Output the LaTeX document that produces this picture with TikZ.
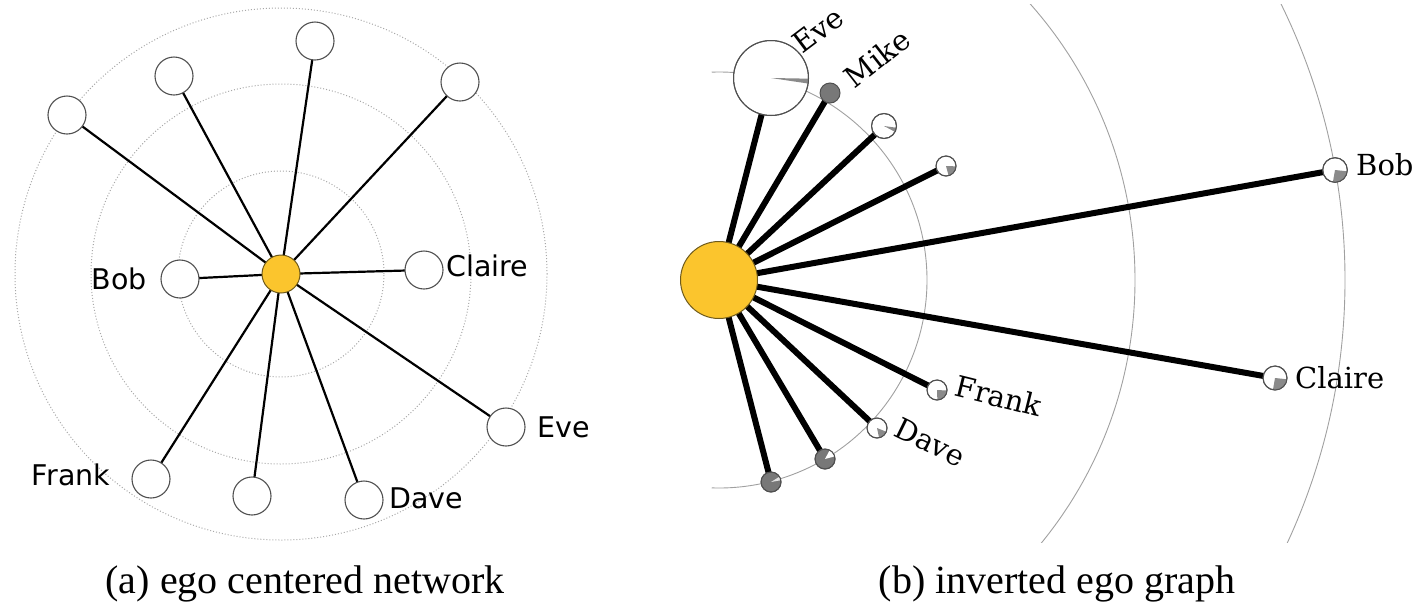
\documentclass[tikz,border=0pt]{standalone}
\usepackage{fontspec}
\usetikzlibrary{backgrounds}
\newfontfamily\sanslab{DejaVu Sans}
\newfontfamily\seriflab{DejaVu Serif}
\newfontfamily\capfont{Liberation Serif}
\definecolor{egofill}{HTML}{FBC52D}
\definecolor{egoline}{HTML}{6E5A1C}
\definecolor{ringgray}{HTML}{A8A8A8}
\definecolor{arcgray}{HTML}{A0A0A0}
\definecolor{nodeline}{HTML}{505050}
\definecolor{wedgegray}{HTML}{8A8A8A}
\definecolor{darkfill}{HTML}{787878}
\definecolor{lightwedge}{HTML}{E2E2E2}
\tikzset{
  altnode/.style={circle, draw=nodeline, line width=1.1pt, fill=white, minimum size=38pt, inner sep=0pt},
  egonode/.style={circle, draw=egoline, line width=1pt, fill=egofill, inner sep=0pt},
  thinedge/.style={line width=2.2pt, black},
  thickedge/.style={line width=6pt, black},
  ring/.style={ringgray, dotted, line width=1pt},
  arcline/.style={arcgray, line width=0.9pt},
  sanslabel/.style={font=\sanslab\fontsize{28.5}{34}\selectfont, inner sep=0pt},
  seriflabel/.style={font=\seriflab\fontsize{29}{34}\selectfont, inner sep=0pt},
  captiontext/.style={font=\capfont\fontsize{40}{46}\selectfont, inner sep=0pt},
  pienode/.style={circle, draw=nodeline, line width=1pt, inner sep=0pt},
}
% name, x, y, radius, base fill, wedge fill, start angle, end angle (screen, ccw)
\newcommand{\pienodeat}[8]{%
  \node[pienode, fill=#5, minimum size={2*#4pt}] (#1) at (#2,#3) {};
  \fill[#6] (#1.center) -- ++(#7:#4pt) arc[start angle=#7, end angle=#8, radius=#4pt] -- cycle;
  \draw[nodeline, line width=1pt] (#1.center) circle[radius=#4pt];
}
\begin{document}
\begin{tikzpicture}[x=1pt, y=-1pt]
\useasboundingbox (0,0) rectangle (1418,606);

% ---------- (a) ego centered network ----------
\node[egonode, minimum size=38pt] (egoL) at (281,274) {};
\node[altnode] (aTop) at (315,41) {};
\node[altnode] (aUL) at (174,76) {};
\node[altnode] (aFL) at (67,115) {};
\node[altnode] (aUR) at (460,82) {};
\node[altnode] (aBob) at (180,279) {};
\node[altnode] (aClaire) at (424,270) {};
\node[altnode] (aEve) at (506,427) {};
\node[altnode] (aFrank) at (151,479) {};
\node[altnode] (aBM) at (252,496) {};
\node[altnode] (aDave) at (364,500) {};

\node[sanslabel] (laBob) at (119,279) {Bob};
\node[sanslabel] (laClaire) at (487.5,266) {Claire};
\node[sanslabel] (laEve) at (563.5,427) {Eve};
\node[sanslabel] (laFrank) at (71,475) {Frank};
\node[sanslabel] (laDave) at (426,498) {Dave};

% ---------- (b) inverted ego graph ----------
\node[egonode, minimum size=77pt] (egoR) at (719,280) {};
\pienodeat{bEve}{771}{78}{37.5}{white}{wedgegray}{-8.5}{-1}
\node[pienode, fill=darkfill, minimum size=20pt] (bMike) at (830,93) {};
\pienodeat{bN3}{884}{126}{12.5}{white}{wedgegray}{-28}{-8}
\pienodeat{bN4}{946}{166}{10}{white}{wedgegray}{-75}{-2}
\pienodeat{bBob}{1335}{170}{12.3}{white}{wedgegray}{-100}{-6}
\pienodeat{bClaire}{1275}{378}{12}{white}{wedgegray}{-100}{-6}
\pienodeat{bFrank}{937}{390}{10}{white}{wedgegray}{-88}{-3}
\pienodeat{bDave}{877}{428}{10}{white}{wedgegray}{-78}{-22}
\pienodeat{bN9}{825}{459}{10}{darkfill}{white}{15}{62}
\pienodeat{bN10}{771}{482}{10}{darkfill}{lightwedge}{10}{32}

\node[seriflabel, rotate=37] (lbEve) at (818,30) {Eve};
\node[seriflabel, rotate=38] (lbMike) at (877,58) {Mike};
\node[seriflabel, anchor=base west] (lbBob) at (1356,175) {Bob};
\node[seriflabel, anchor=base west] (lbClaire) at (1295,388) {Claire};
\node[seriflabel, rotate=-14] (lbFrank) at (999,396) {Frank};
\node[seriflabel, rotate=-26] (lbDave) at (930,442) {Dave};

% ---------- captions ----------
\node[captiontext, anchor=base] (capA) at (305,593) {(a) ego centered network};
\node[captiontext, anchor=base] (capB) at (1057,593) {(b) inverted ego graph};

% ---------- background: rings, arcs, edges ----------
\begin{scope}[on background layer]
  \draw[ring] (egoL.center) circle[radius=103pt];
  \draw[ring] (egoL.center) circle[radius=190pt];
  \draw[ring] (egoL.center) circle[radius=266pt];

  \draw[arcline] (egoR.center) ++(92:208pt) arc[start angle=92, end angle=-92, radius=208pt];
  \begin{scope}
    \clip (730,4) rectangle (1418,542);
    \draw[arcline] (egoR.center) circle[radius=416pt];
    \draw[arcline] (egoR.center) circle[radius=626pt];
  \end{scope}

  \foreach \n in {aTop,aUL,aFL,aUR,aBob,aClaire,aEve,aFrank,aBM,aDave}
    \draw[thinedge] (egoL.center) -- (\n.center);

  \foreach \n in {bEve,bMike,bN3,bN4,bBob,bClaire,bFrank,bDave,bN9,bN10}
    \draw[thickedge] (egoR.center) -- (\n.center);
\end{scope}
\end{tikzpicture}
\end{document}
